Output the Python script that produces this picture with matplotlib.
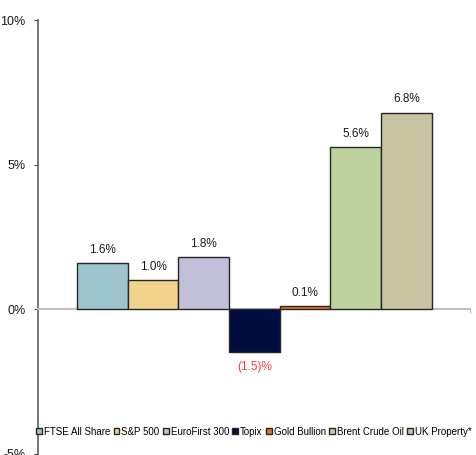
import matplotlib.pyplot as plt
from matplotlib.ticker import FuncFormatter

plt.rcParams['font.family'] = ['Liberation Sans', 'DejaVu Sans']

names = ['FTSE All Share', 'S&P 500', 'EuroFirst 300', 'Topix', 'Gold Bullion', 'Brent Crude Oil', 'UK Property*']
values = [1.6, 1.0, 1.8, -1.5, 0.1, 5.6, 6.8]
labels = ['1.6%', '1.0%', '1.8%', '(1.5)%', '0.1%', '5.6%', '6.8%']
colors = ['#9DC3CF', '#F2D38C', '#C1BED8', '#000D3F', '#E8711C', '#BDD29F', '#C8C3A0']

fig = plt.figure(figsize=(4.76, 4.55), dpi=100)
ax = fig.add_axes([0.08, 0.003, 0.907, 0.953])

for i, (n, v, c) in enumerate(zip(names, values, colors)):
    ax.bar(i, v, width=1.0, color=c, edgecolor='#262626', linewidth=1.0, label=n, zorder=3)
    if v >= 0:
        ax.text(i, v + 0.25, labels[i], ha='center', va='bottom', fontsize=8.5, color='#1a1a1a')
    else:
        ax.text(i, v - 0.3, labels[i], ha='center', va='top', fontsize=8.5, color='#FF3B3B')

ax.set_ylim(-5, 10)
ax.set_xlim(-1.27, 7.25)
ax.set_yticks([-5, 0, 5, 10])
ax.yaxis.set_major_formatter(FuncFormatter(lambda y, p: f'{y:.0f}%'))
ax.tick_params(axis='y', labelsize=9, length=3, color='#404040', labelcolor='#1a1a1a', pad=6)

ax.spines['top'].set_visible(False)
ax.spines['right'].set_visible(False)
ax.spines['left'].set_color('#606060')
ax.spines['left'].set_linewidth(1.2)
ax.spines['bottom'].set_position(('data', 0))
ax.spines['bottom'].set_color('#BFBFBF')
ax.spines['bottom'].set_linewidth(1.5)
ax.set_xticks([7.25])
ax.set_xticklabels([''])
ax.tick_params(axis='x', length=3, color='#BFBFBF')

ax.legend(loc='lower center', bbox_to_anchor=(0.5, 0.03), ncol=7, frameon=False,
          fontsize=7, handlelength=0.6, handleheight=0.6, handletextpad=0.2,
          columnspacing=0.35, borderaxespad=0)

fig.savefig('out.png', dpi=100)
